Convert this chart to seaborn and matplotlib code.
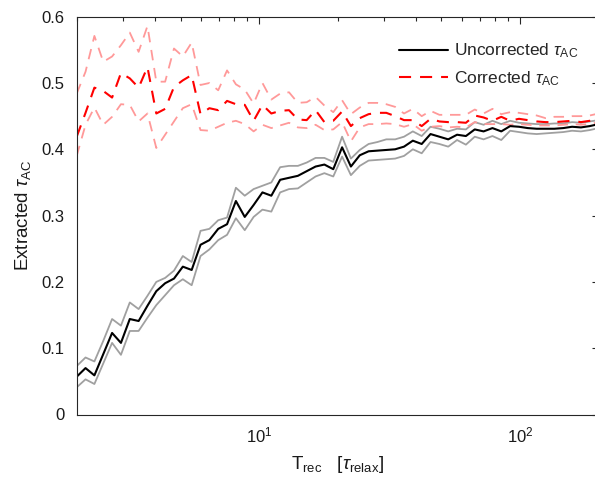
import numpy as np
import pandas as pd
import matplotlib
matplotlib.use("Agg")
import matplotlib.pyplot as plt
import seaborn as sns
from matplotlib.lines import Line2D
from matplotlib.ticker import FixedLocator, FixedFormatter, LogLocator, NullFormatter

# ---- data ----
T_rec = [2.000, 2.162, 2.338, 2.528, 2.733, 2.955, 3.195, 3.454, 3.734, 4.037,
         4.365, 4.719, 5.102, 5.516, 5.964, 6.448, 6.971, 7.537, 8.149, 8.811,
         9.528, 10.30, 11.14, 12.04, 13.02, 14.08, 15.22, 16.46, 17.79, 19.24,
         20.80, 22.48, 24.31, 26.28, 28.42, 30.72, 33.22, 35.92, 38.83, 41.99,
         45.39, 49.08, 53.06, 57.36, 62.02, 67.05, 72.50, 78.38, 84.74, 91.62,
         99.07, 107.1, 115.8, 125.2, 135.4, 146.4, 158.3, 171.1, 185.0, 200.0]

unc_mean = [0.057, 0.070, 0.059, 0.091, 0.123, 0.108, 0.144, 0.141, 0.164, 0.186,
            0.198, 0.205, 0.223, 0.218, 0.256, 0.263, 0.280, 0.287, 0.322, 0.298,
            0.316, 0.335, 0.330, 0.354, 0.357, 0.360, 0.367, 0.374, 0.377, 0.370,
            0.403, 0.374, 0.391, 0.397, 0.398, 0.399, 0.400, 0.404, 0.413, 0.408,
            0.423, 0.419, 0.415, 0.422, 0.420, 0.430, 0.427, 0.432, 0.427, 0.435,
            0.434, 0.432, 0.431, 0.431, 0.431, 0.432, 0.434, 0.433, 0.435, 0.438]
unc_upper = [0.073, 0.086, 0.080, 0.111, 0.144, 0.134, 0.169, 0.159, 0.179, 0.200,
             0.206, 0.217, 0.239, 0.230, 0.277, 0.280, 0.293, 0.297, 0.342, 0.330,
             0.340, 0.345, 0.350, 0.373, 0.375, 0.375, 0.380, 0.387, 0.387, 0.381,
             0.419, 0.386, 0.399, 0.408, 0.411, 0.415, 0.415, 0.419, 0.427, 0.420,
             0.434, 0.431, 0.427, 0.431, 0.430, 0.441, 0.437, 0.443, 0.438, 0.443,
             0.440, 0.439, 0.438, 0.438, 0.439, 0.439, 0.441, 0.440, 0.442, 0.444]
unc_lower = [0.041, 0.053, 0.046, 0.077, 0.108, 0.090, 0.126, 0.126, 0.146, 0.165,
             0.180, 0.195, 0.204, 0.195, 0.239, 0.249, 0.263, 0.271, 0.296, 0.278,
             0.298, 0.309, 0.306, 0.335, 0.340, 0.341, 0.350, 0.359, 0.364, 0.359,
             0.389, 0.361, 0.375, 0.383, 0.384, 0.385, 0.386, 0.390, 0.400, 0.394,
             0.411, 0.408, 0.404, 0.414, 0.407, 0.419, 0.415, 0.420, 0.414, 0.428,
             0.426, 0.424, 0.423, 0.424, 0.425, 0.426, 0.428, 0.427, 0.429, 0.432]

cor_mean = [0.419, 0.455, 0.493, 0.488, 0.478, 0.515, 0.507, 0.493, 0.524, 0.454,
            0.461, 0.494, 0.504, 0.512, 0.453, 0.462, 0.459, 0.473, 0.468, 0.467,
            0.443, 0.467, 0.454, 0.458, 0.459, 0.445, 0.444, 0.459, 0.441, 0.443,
            0.457, 0.435, 0.447, 0.453, 0.455, 0.455, 0.450, 0.444, 0.444, 0.435,
            0.446, 0.442, 0.441, 0.441, 0.440, 0.451, 0.448, 0.443, 0.449, 0.443,
            0.446, 0.444, 0.442, 0.441, 0.441, 0.442, 0.443, 0.441, 0.443, 0.447]
cor_upper = [0.484, 0.517, 0.571, 0.532, 0.540, 0.557, 0.576, 0.547, 0.586, 0.502,
             0.502, 0.552, 0.540, 0.561, 0.497, 0.500, 0.489, 0.519, 0.498, 0.490,
             0.469, 0.500, 0.475, 0.484, 0.486, 0.470, 0.471, 0.479, 0.466, 0.456,
             0.474, 0.453, 0.463, 0.470, 0.470, 0.468, 0.464, 0.454, 0.461, 0.450,
             0.458, 0.452, 0.452, 0.452, 0.452, 0.460, 0.454, 0.461, 0.453, 0.456,
             0.455, 0.453, 0.451, 0.447, 0.449, 0.449, 0.450, 0.450, 0.451, 0.454]
cor_lower = [0.390, 0.437, 0.463, 0.437, 0.449, 0.468, 0.467, 0.442, 0.454, 0.402,
             0.422, 0.442, 0.462, 0.468, 0.429, 0.428, 0.434, 0.440, 0.443, 0.438,
             0.427, 0.437, 0.432, 0.436, 0.440, 0.433, 0.432, 0.437, 0.429, 0.430,
             0.441, 0.412, 0.433, 0.438, 0.438, 0.439, 0.438, 0.434, 0.438, 0.428,
             0.434, 0.435, 0.433, 0.434, 0.433, 0.441, 0.438, 0.438, 0.438, 0.437,
             0.438, 0.437, 0.436, 0.436, 0.436, 0.437, 0.438, 0.437, 0.438, 0.441]

y_ticks = [0, 0.1, 0.2, 0.3, 0.4, 0.5, 0.6]
y_ticklabels = ["0", "0.1", "0.2", "0.3", "0.4", "0.5", "0.6"]

df = pd.DataFrame({"T": T_rec, "unc": unc_mean, "unc_hi": unc_upper, "unc_lo": unc_lower,
                   "cor": cor_mean, "cor_hi": cor_upper, "cor_lo": cor_lower})

# ---- style ----
sns.set_theme(style="white")
plt.rcParams["font.family"] = ["Liberation Sans", "DejaVu Sans"]
plt.rcParams["mathtext.fontset"] = "custom"
plt.rcParams["mathtext.rm"] = "Liberation Sans"
plt.rcParams["mathtext.it"] = "Liberation Sans:italic"
plt.rcParams["mathtext.default"] = "regular"

fig = plt.figure(figsize=(5.95, 4.82), dpi=100)
ax = fig.add_axes([76.7 / 595, (482 - 414.5) / 482, (598.6 - 76.7) / 595, (414.5 - 16.7) / 482])

axcol = "#262626"
gray = "#a0a0a0"
lightred = "#ff9999"
dash = (0, (5.8, 4.3))

sns.lineplot(data=df, x="T", y="unc_hi", ax=ax, color=gray, lw=1.3, estimator=None, sort=False)
sns.lineplot(data=df, x="T", y="unc_lo", ax=ax, color=gray, lw=1.3, estimator=None, sort=False)
sns.lineplot(data=df, x="T", y="cor_hi", ax=ax, color=lightred, lw=1.3, linestyle=dash, estimator=None, sort=False)
sns.lineplot(data=df, x="T", y="cor_lo", ax=ax, color=lightred, lw=1.3, linestyle=dash, estimator=None, sort=False)
sns.lineplot(data=df, x="T", y="unc", ax=ax, color="black", lw=1.5, estimator=None, sort=False)
sns.lineplot(data=df, x="T", y="cor", ax=ax, color="red", lw=1.5, linestyle=dash, estimator=None, sort=False)

ax.set_xscale("log")
ax.set_xlim(2, 200)
ax.set_ylim(0, 0.6)
ax.yaxis.set_major_locator(FixedLocator(y_ticks))
ax.yaxis.set_major_formatter(FixedFormatter(y_ticklabels))
ax.xaxis.set_major_locator(LogLocator(base=10, numticks=10))
ax.xaxis.set_minor_locator(LogLocator(base=10, subs=np.arange(2, 10), numticks=20))
ax.xaxis.set_minor_formatter(NullFormatter())

for s in ax.spines.values():
    s.set_visible(True)
    s.set_color(axcol)
    s.set_linewidth(0.8)
ax.tick_params(axis="both", which="both", direction="in", top=True, right=True,
               color=axcol, labelcolor="#1a1a1a", labelsize=12, width=0.8)
ax.tick_params(axis="y", which="major", length=5, pad=9)
ax.tick_params(axis="x", which="major", length=5, pad=8)
ax.tick_params(axis="x", which="minor", length=3)

ax.set_xlabel(r"T$_{\rm rec}$   [$\it{\tau}_{\rm relax}$]", fontsize=13.5, color="#1a1a1a", labelpad=6)
ax.set_ylabel(r"Extracted $\it{\tau}_{\rm AC}$", fontsize=13.5, color="#1a1a1a", labelpad=6)

handles = [Line2D([], [], color="black", lw=1.5),
           Line2D([], [], color="red", lw=1.5, linestyle=dash)]
fig.legend(handles, [r"Uncorrected $\it{\tau}_{\rm AC}$", r"Corrected $\it{\tau}_{\rm AC}$"],
           loc="upper right", bbox_to_anchor=(594 / 595, 1 - 26 / 482), frameon=False,
           fontsize=12.5, handlelength=2.8, handletextpad=0.35, labelspacing=0.5)

fig.savefig("out.png", dpi=100)
